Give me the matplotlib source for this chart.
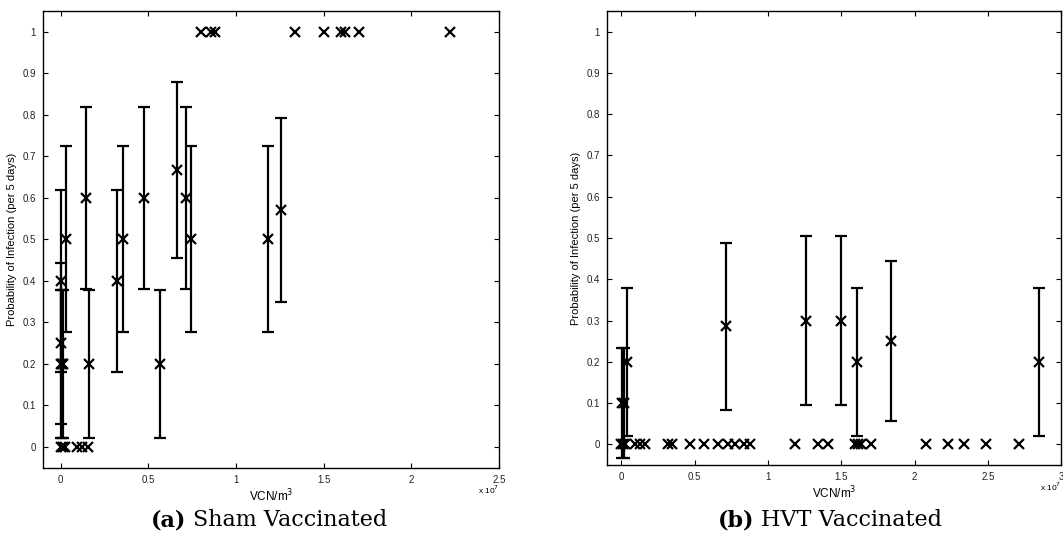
import matplotlib
matplotlib.use("Agg")
import matplotlib.pyplot as plt
from matplotlib.ticker import FormatStrFormatter, FuncFormatter

# Virus concentration in units of 1e7 VCN/m^3, infection probability per 5 days
sham_x = [0.003, 0.002, 0.000, 0.008, 0.015, 0.033, 0.146, 0.163, 0.321, 0.355,
          0.474, 0.564, 0.666, 0.716, 0.742, 1.181, 1.257]
sham_p = [0.4, 0.25, 0.2, 0.2, 0.2, 0.5, 0.6, 0.2, 0.4, 0.5,
          0.6, 0.2, 0.667, 0.6, 0.5, 0.5, 0.571]
sham_err = [0.219, 0.194, 0.179, 0.179, 0.179, 0.224, 0.219, 0.179, 0.219, 0.224,
            0.219, 0.179, 0.211, 0.219, 0.224, 0.224, 0.221]
sham_zero_x = [0.000, 0.013, 0.027, 0.092, 0.124, 0.158]
sham_one_x = [0.80, 0.86, 0.88, 1.338, 1.50, 1.60, 1.62, 1.70, 2.22]

hvt_x = [0.003, 0.018, 0.036, 0.716, 1.257, 1.50, 1.607, 1.835, 2.849]
hvt_p = [0.1, 0.1, 0.2, 0.286, 0.3, 0.3, 0.2, 0.25, 0.2]
hvt_err = [0.134, 0.134, 0.179, 0.202, 0.205, 0.205, 0.179, 0.194, 0.179]
hvt_zero_x = [0.000, 0.010, 0.025, 0.095, 0.128, 0.160, 0.318, 0.345, 0.465,
              0.562, 0.660, 0.728, 0.775, 0.835, 0.880, 1.184, 1.341, 1.409,
              1.591, 1.614, 1.637, 1.700, 2.074, 2.224, 2.337, 2.485, 2.710]

sham_xticks = [0, 0.5, 1, 1.5, 2, 2.5]
hvt_xticks = [0, 0.5, 1, 1.5, 2, 2.5, 3]
yticks = [0, 0.1, 0.2, 0.3, 0.4, 0.5, 0.6, 0.7, 0.8, 0.9, 1]

plt.rcParams['font.family'] = ['Liberation Sans', 'DejaVu Sans']

fig = plt.figure(figsize=(10.63, 5.45), dpi=100)
ax_a = fig.add_axes([0.0405, 0.1418, 0.429, 0.838])
ax_b = fig.add_axes([0.5707, 0.1468, 0.4278, 0.833])

mk = dict(marker='x', color='black', markersize=7, mew=1.6, linestyle='none')


def style_axis(ax, xticks, xmax):
    ax.set_xlim(-0.1, xmax)
    ax.set_ylim(-0.05, 1.05)
    ax.set_xticks(xticks)
    ax.set_yticks(yticks)
    ax.xaxis.set_major_formatter(FuncFormatter(lambda v, _: f"{v:g}"))
    ax.yaxis.set_major_formatter(FuncFormatter(lambda v, _: f"{v:g}"))
    ax.tick_params(direction='in', length=3.5, width=0.8, top=True, right=True,
                   labelsize=7, pad=5, colors='black', labelcolor='#222222')
    for s in ax.spines.values():
        s.set_linewidth(1.0)
    ax.set_ylabel('Probability of Infection (per 5 days)', fontsize=8, labelpad=4)
    ax.set_xlabel('VCN/m$^3$', fontsize=8.5, labelpad=2)
    ax.text(1.0, -0.035, r'x 10$^7$', transform=ax.transAxes, ha='right',
            va='top', fontsize=6)


def draw(ax, x, p, err, zx, ox):
    ax.errorbar(x, p, yerr=err, fmt='none', ecolor='black', elinewidth=1.6,
                capsize=4.5, capthick=1.6)
    ax.plot(x, p, **mk)
    ax.plot(zx, [0] * len(zx), **mk)
    if ox:
        ax.plot(ox, [1] * len(ox), **mk)


draw(ax_a, sham_x, sham_p, sham_err, sham_zero_x, sham_one_x)
draw(ax_b, hvt_x, hvt_p, hvt_err, hvt_zero_x, [])
style_axis(ax_a, sham_xticks, 2.5)
style_axis(ax_b, hvt_xticks, 3.0)

cap_font = dict(family='DejaVu Serif', fontsize=16)
fig.text(186 / 1063, 1 - 520 / 545, '(a)', ha='right', va='center',
         fontweight='bold', **cap_font)
fig.text(193 / 1063, 1 - 520 / 545, 'Sham Vaccinated', ha='left', va='center',
         **cap_font)
fig.text(754 / 1063, 1 - 520 / 545, '(b)', ha='right', va='center',
         fontweight='bold', **cap_font)
fig.text(761 / 1063, 1 - 520 / 545, 'HVT Vaccinated', ha='left', va='center',
         **cap_font)

fig.savefig('out.png', dpi=100)
